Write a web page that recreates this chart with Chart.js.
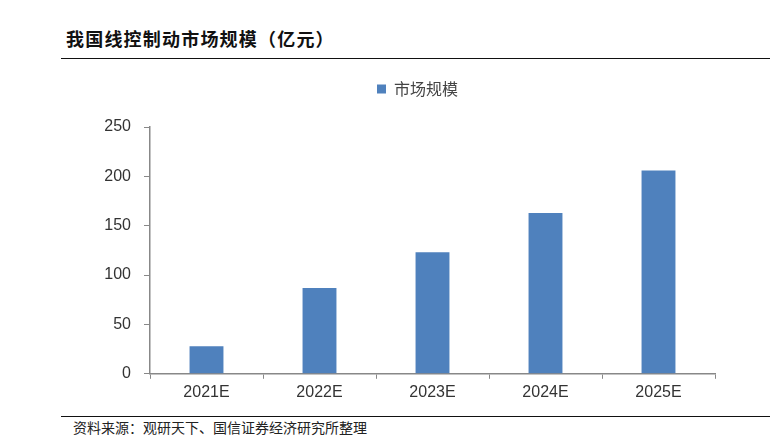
<!DOCTYPE html>
<html>
<head>
<meta charset="utf-8">
<script src="https://cdn.jsdelivr.net/npm/chart.js@4"></script>
<style>
  body { margin: 0; background: #fff; width: 783px; height: 442px; position: relative; overflow: hidden; }
  .title { position: absolute; left: 66px; top: 25px; font: 700 18px/26px "Noto Sans CJK SC", sans-serif; letter-spacing: 1.2px; color: #111; }
  .rule { position: absolute; left: 61px; width: 709px; height: 0; border-top: 1.5px solid #111; }
  .source { position: absolute; left: 73px; top: 417px; font: 14px/20px "Noto Sans CJK SC", sans-serif; color: #222; }
  #wrap { position: absolute; left: 80px; top: 70px; width: 650px; height: 336px; }
</style>
</head>
<body>
<div class="title">我国线控制动市场规模（亿元）</div>
<div class="rule" style="top:58px"></div>
<div id="wrap"><canvas id="chart"></canvas></div>
<div class="rule" style="top:416px"></div>
<div class="source">资料来源：观研天下、国信证券经济研究所整理</div>
<script>
const years = ['2021E', '2022E', '2023E', '2024E', '2025E'];
const marketSize = [28, 87, 123, 163, 206];
const seriesName = '市场规模';

// more room under the legend, and centre it over the plot rather than the canvas
const legendTweak = {
  id: 'legendTweak',
  beforeInit(chart) {
    const fit = chart.legend.fit;
    chart.legend.fit = function () {
      fit.bind(chart.legend)();
      this.height += 20;
    };
  },
  afterLayout(chart) {
    chart.legend.left += 40;
  }
};

new Chart(document.getElementById('chart'), {
  type: 'bar',
  data: {
    labels: years,
    datasets: [{
      label: seriesName,
      data: marketSize,
      backgroundColor: '#4f81bd',
      borderWidth: 0,
      barPercentage: 0.3,
      categoryPercentage: 1
    }]
  },
  options: {
    responsive: true,
    maintainAspectRatio: false,
    animation: false,
    layout: { padding: { right: 15, top: 1 } },
    plugins: {
      legend: {
        display: true,
        labels: {
          boxWidth: 9,
          boxHeight: 9,
          padding: 10,
          color: '#444',
          font: { family: '"Noto Sans CJK SC", sans-serif', size: 16 }
        }
      },
      tooltip: { enabled: false }
    },
    scales: {
      x: {
        grid: { display: true, drawOnChartArea: false, offset: true, tickLength: 5, color: '#888' },
        border: { color: '#888', width: 1.5 },
        ticks: { color: '#333', padding: 4, font: { family: '"Liberation Sans", Arial, sans-serif', size: 16 } }
      },
      y: {
        min: 0,
        max: 250,
        grid: { display: true, drawOnChartArea: false, tickLength: 6, color: '#888' },
        border: { color: '#888', width: 1.5 },
        ticks: { stepSize: 50, color: '#333', padding: 13, font: { family: '"Liberation Sans", Arial, sans-serif', size: 16 } },
        afterFit: scale => { scale.width = 70; }
      }
    }
  },
  plugins: [legendTweak]
});
</script>
</body>
</html>
